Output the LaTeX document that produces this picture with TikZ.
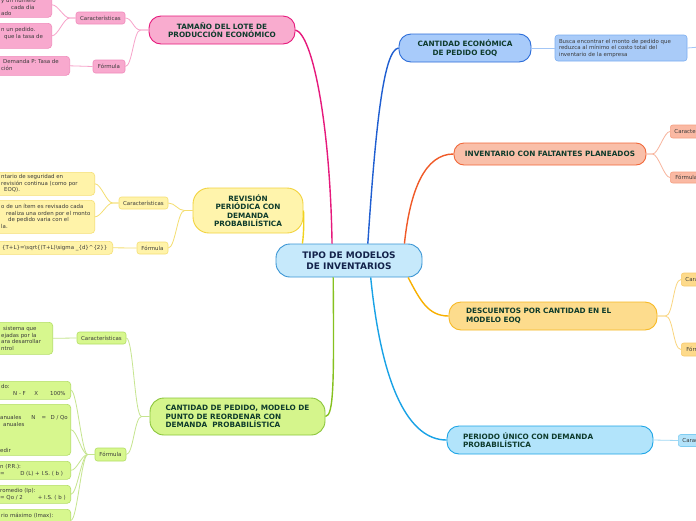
\documentclass[tikz,border=0pt]{standalone}
\usepackage{fontspec}
\setmainfont{DejaVu Sans}
\definecolor{ttext}{HTML}{0E3B2C}
\definecolor{ctext}{HTML}{13224A}
\definecolor{ltext}{HTML}{3A3A3A}
\definecolor{cF}{HTML}{C6E9FB}\definecolor{cB}{HTML}{3A95D4}
\definecolor{pkF}{HTML}{F9ACCF}\definecolor{pkB}{HTML}{E6197C}\definecolor{pkS}{HTML}{F8A9CE}\definecolor{pkSB}{HTML}{F08CBC}\definecolor{pkL}{HTML}{F7A3CA}
\definecolor{yeF}{HTML}{FFF4AC}\definecolor{yeB}{HTML}{F2D33F}\definecolor{yeS}{HTML}{FFF3A9}\definecolor{yeSB}{HTML}{F5DF75}\definecolor{yeL}{HTML}{F4DE70}\definecolor{yeM}{HTML}{F1D21E}
\definecolor{grF}{HTML}{D5F58C}\definecolor{grB}{HTML}{8BC53B}\definecolor{grS}{HTML}{D7F78E}\definecolor{grSB}{HTML}{B4DE66}\definecolor{grL}{HTML}{C6E58F}\definecolor{grM}{HTML}{86C11F}
\definecolor{blF}{HTML}{A8CBFA}\definecolor{blB}{HTML}{2C6DD9}\definecolor{blS}{HTML}{A9CBF8}\definecolor{blSB}{HTML}{7BAEF0}\definecolor{blL}{HTML}{A3C6F6}\definecolor{blM}{HTML}{1F5ED1}
\definecolor{orF}{HTML}{F9BFA9}\definecolor{orB}{HTML}{F1683A}\definecolor{orS}{HTML}{FAB9A3}\definecolor{orSB}{HTML}{F5A083}\definecolor{orL}{HTML}{F8B49D}\definecolor{orM}{HTML}{F05A28}
\definecolor{goF}{HTML}{FDDC8D}\definecolor{goB}{HTML}{F7B925}\definecolor{goS}{HTML}{FDDA8B}\definecolor{goSB}{HTML}{F8CB6E}\definecolor{goL}{HTML}{FAD57E}\definecolor{goM}{HTML}{F8B000}
\definecolor{lbF}{HTML}{B2E4FB}\definecolor{lbB}{HTML}{1DA5E6}\definecolor{lbS}{HTML}{B3E3FA}\definecolor{lbSB}{HTML}{7FCDF2}\definecolor{lbL}{HTML}{A0D8F4}\definecolor{lbM}{HTML}{18A2E6}
\newcommand\mmTitle{\bfseries\fontsize{7.3}{8.5}\selectfont}
\newcommand\mmSmall{\fontsize{5.45}{6.5}\selectfont}
\begin{document}
\begin{tikzpicture}[x=1pt,y=-1pt,
  mainbox/.style={draw, line width=0.9pt, rounded corners=12pt, align=center, inner sep=0pt, text=ttext, font=\mmTitle},
  subbox/.style={draw, line width=0.6pt, rounded corners=2.5pt, inner sep=0pt, text=ltext, font=\mmSmall},
  leafbox/.style={draw, line width=0.6pt, rounded corners=3.5pt, inner sep=0pt},
  ltxt/.style={inner sep=0pt, align=left, anchor=north west, text=ltext, font=\mmSmall},
  mainline/.style={line width=1.4pt},
  subline/.style={line width=0.8pt}]
\useasboundingbox (0,0) rectangle (696,520);
\clip (0,0) rectangle (696,520);
\fill[white] (0,0) rectangle (696,520);

% ---------- main nodes ----------
\node[mainbox, fill=cF, draw=cB, text=ctext, rounded corners=14pt, minimum width=146pt, minimum height=33pt, font=\bfseries\fontsize{9}{10.5}\selectfont] (c) at (349,260.5) {TIPO DE MODELOS\\DE INVENTARIOS};
\node[mainbox, fill=pkF, draw=pkB, minimum width=146pt, minimum height=28pt] (p) at (222,30) {TAMAÑO DEL LOTE DE\\PRODUCCIÓN ECONÓMICO};
\node[mainbox, fill=yeF, draw=yeB, rounded corners=16pt, minimum width=110pt, minimum height=45pt] (y) at (248,210.5) {REVISIÓN\\PERIÓDICA CON\\DEMANDA\\PROBABILÍSTICA};
\node[mainbox, fill=grF, draw=grB, align=left, minimum width=175pt, minimum height=37pt, rounded corners=14pt] (g) at (237.5,416.5) {CANTIDAD DE PEDIDO, MODELO DE\\PUNTO DE REORDENAR CON\\DEMANDA\ \ PROBABILÍSTICA};
\node[mainbox, fill=blF, draw=blB, minimum width=132pt, minimum height=28pt] (b) at (465,48) {CANTIDAD ECONÓMICA\\DE PEDIDO EOQ};
\node[mainbox, fill=orF, draw=orB, rounded corners=10pt, minimum width=192pt, minimum height=22pt] (o) at (550,154) {INVENTARIO CON FALTANTES PLANEADOS};
\node[mainbox, fill=goF, draw=goB, align=left, text width=174pt, minimum width=208pt, minimum height=28pt] (d) at (553,316) {DESCUENTOS POR CANTIDAD EN EL\\MODELO EOQ};
\node[mainbox, fill=lbF, draw=lbB, align=left, text width=174pt, minimum width=206pt, minimum height=28pt] (l) at (550,440) {PERIODO ÚNICO CON DEMANDA\\PROBABILÍSTICA};

% ---------- main connectors ----------
\draw[mainline, pkB] (c.135) .. controls (330,120) and (312,34) .. (p.east);
\draw[mainline, yeM] (c.160) .. controls (304,232) and (304,218) .. (y.east);
\draw[mainline, blM] (c.42) .. controls (376,120) and (384,50) .. (b.west);
\draw[mainline, orM] (c.17) .. controls (410,190) and (425,154) .. (o.west);
\draw[mainline, grM] (c.227) .. controls (334,380) and (334,416) .. (g.east);
\draw[mainline, lbM] (c.322) .. controls (382,390) and (410,440) .. (l.west);
\draw[mainline, goM] (c.344) .. controls (420,300) and (428,316) .. (d.west);

% ---------- pink branch ----------
\node[subbox, fill=pkS, draw=pkSB, minimum width=49pt, minimum height=12pt] (pc) at (100.5,18) {Características};
\node[subbox, fill=pkS, draw=pkSB, minimum width=32pt, minimum height=13pt] (pf) at (109,66.5) {Fórmula};
\node[leafbox, fill=pkS, draw=pkSB, anchor=north east, minimum width=80pt, minimum height=25pt] (pl1) at (52,-8) {};
\node[leafbox, fill=pkS, draw=pkSB, anchor=north east, minimum width=80pt, minimum height=25pt] (pl2) at (52,23) {};
\node[leafbox, fill=pkS, draw=pkSB, anchor=north east, minimum width=90pt, minimum height=19pt] (pl3) at (70,56) {};
\node[ltxt] (pl1t) at (1,-1.6) {y un número\\\hspace*{10pt}cada día\\ado};
\node[ltxt] (pl2t) at (1,27.4) {n un pedido.\\\hspace*{3pt}que la tasa de};
\node[ltxt] (pl3t) at (1,59.4) {\hspace*{2pt}Demanda P: Tasa de\\ción};
\draw[subline, pkL] (p.west) -- ++(-8,0) .. controls +(-7,0) and +(7,0) .. (pc.east);
\draw[subline, pkL] (p.west) -- ++(-8,0) .. controls +(-7,0) and +(7,0) .. (pf.east);
\draw[subline, pkL] (pc.west) -- ++(-6,0) .. controls +(-6,0) and +(6,0) .. (pl1.east);
\draw[subline, pkL] (pc.west) -- ++(-6,0) .. controls +(-6,0) and +(6,0) .. (pl2.east);
\draw[subline, pkL] (pf.west) -- (pl3.east);

% ---------- yellow branch ----------
\node[subbox, fill=yeS, draw=yeSB, minimum width=49pt, minimum height=12pt] (yc) at (143.5,203) {Características};
\node[subbox, fill=yeS, draw=yeSB, minimum width=31pt, minimum height=12pt] (yf) at (152.5,248) {Fórmula};
\node[leafbox, fill=yeS, draw=yeSB, anchor=north east, minimum width=110pt, minimum height=23pt] (yl1) at (95,172) {};
\node[leafbox, fill=yeS, draw=yeSB, anchor=north east, minimum width=110pt, minimum height=33pt] (yl2) at (95,200) {};
\node[leafbox, fill=yeS, draw=yeSB, anchor=north east, minimum width=130pt, minimum height=13pt] (yl3) at (113,241) {};
\node[ltxt] (yl1t) at (1,174.4) {ntario de seguridad en\\revisión continua (como por\\\hspace*{3pt}EOQ).};
\node[ltxt] (yl2t) at (1,204.4) {o de un ítem es revisado cada\\\hspace*{5pt}realiza una orden por el monto\\\hspace*{7pt}de pedido varia con el\\la.};
\node[ltxt] (yl3t) at (2,245) {\{T+L\}=\textbackslash sqrt\{(T+L)\textbackslash sigma \_\{d\}\^{}\{2\}\}};
\draw[subline, yeL] (y.west) -- ++(-8,0) .. controls +(-7,0) and +(7,0) .. (yc.east);
\draw[subline, yeL] (y.west) -- ++(-8,0) .. controls +(-7,0) and +(7,0) .. (yf.east);
\draw[subline, yeL] (yc.west) -- ++(-6,0) .. controls +(-6,0) and +(6,0) .. (yl1.east);
\draw[subline, yeL] (yc.west) -- ++(-6,0) .. controls +(-6,0) and +(6,0) .. (yl2.east);
\draw[subline, yeL] (yf.west) -- (yl3.east);

% ---------- green branch ----------
\node[subbox, fill=grS, draw=grSB, minimum width=49pt, minimum height=12pt] (gc) at (101.5,338) {Características};
\node[subbox, fill=grS, draw=grSB, minimum width=31pt, minimum height=13pt] (gf) at (110.5,454.5) {Fórmula};
\node[leafbox, fill=grS, draw=grSB, anchor=north east, minimum width=80pt, minimum height=32pt] (gl1) at (53,322) {};
\node[leafbox, fill=grS, draw=grSB, anchor=north east, minimum width=90pt, minimum height=18pt] (gf1) at (71,381) {};
\node[leafbox, fill=grS, draw=grSB, anchor=north east, minimum width=90pt, minimum height=51pt] (gf2) at (71,404) {};
\node[leafbox, fill=grS, draw=grSB, anchor=north east, minimum width=90pt, minimum height=18pt] (gf3) at (71,461) {};
\node[leafbox, fill=grS, draw=grSB, anchor=north east, minimum width=90pt, minimum height=18pt] (gf4) at (71,485) {};
\node[leafbox, fill=grS, draw=grSB, anchor=north east, minimum width=90pt, minimum height=22pt] (gf5) at (71,509) {};
\node[ltxt] (gl1t) at (1,326.4) {\hspace*{2pt}sistema que\\ejadas por la\\ara desarrollar\\ntrol};
\node[ltxt] (gf1t) at (1,384.4) {do:\\\hspace*{12pt}N - F\hspace*{8.5pt}X\hspace*{12pt}100\%};
\node[ltxt] (gf2t) at (0,415.4) {anuales\hspace*{10pt}N\hspace*{6pt}=\hspace*{4.5pt}D / Qo\\\hspace*{3pt}anuales\\\mbox{}\\\mbox{}\\\mbox{}\\edir};
\node[ltxt] (gf3t) at (0,464.4) {n (P.R.):\\=\hspace*{15.5pt}D (L) + I.S. ( b )};
\node[ltxt] (gf4t) at (0,488.4) {romedio (Ip):\\= Qo / 2\hspace*{15pt}+ I.S. ( b )};
\node[ltxt] (gf5t) at (1,513.4) {rio máximo (Imax):};
\draw[subline, grL] (g.west) -- ++(-8,0) .. controls +(-7,0) and +(7,0) .. (gc.east);
\draw[subline, grL] (g.west) -- ++(-8,0) .. controls +(-7,0) and +(7,0) .. (gf.east);
\draw[subline, grL] (gc.west) -- (gl1.east);
\foreach \t in {gf1,gf2,gf3,gf4,gf5}
  \draw[subline, grL] (gf.west) -- ++(-7,0) .. controls +(-6,0) and +(6,0) .. (\t.east);

% ---------- blue branch ----------
\node[leafbox, fill=blS, draw=blSB, rounded corners=3pt, minimum width=132pt, minimum height=26pt, text width=124pt, align=left, text=ltext, font=\mmSmall] (bl) at (621,48) {Busca encontrar el monto de pedido que\\reduzca al mínimo el costo total del\\inventario de la empresa};
\coordinate (bx) at (700,47);
\draw[subline, blL] (b.east) -- (bl.west);
\draw[subline, blL] (bl.east) -- (bx);

% ---------- orange branch ----------
\node[subbox, fill=orS, draw=orSB, anchor=west, minimum width=49pt, minimum height=13pt] (oc) at (670,131.5) {Características};
\node[subbox, fill=orS, draw=orSB, anchor=west, minimum width=32pt, minimum height=11pt] (of) at (670,177.5) {Fórmula};
\draw[subline, orL] (o.east) -- ++(6,0) .. controls +(6,0) and +(-6,0) .. (oc.west);
\draw[subline, orL] (o.east) -- ++(6,0) .. controls +(6,0) and +(-6,0) .. (of.west);

% ---------- gold branch ----------
\node[subbox, fill=goS, draw=goSB, anchor=west, minimum width=49pt, minimum height=13pt] (dc) at (681,279.5) {Características};
\node[subbox, fill=goS, draw=goSB, anchor=west, minimum width=32pt, minimum height=13pt] (df) at (681,349.5) {Fórmula};
\draw[subline, goL] (d.east) -- ++(8,0) .. controls +(8,0) and +(-8,0) .. (dc.west);
\draw[subline, goL] (d.east) -- ++(8,0) .. controls +(8,0) and +(-8,0) .. (df.west);

% ---------- light blue branch ----------
\node[subbox, fill=lbS, draw=lbSB, anchor=west, minimum width=49pt, minimum height=12pt] (lc) at (678,440.5) {Características};
\draw[subline, lbL] (l.east) -- (lc.west);
\end{tikzpicture}
\end{document}
